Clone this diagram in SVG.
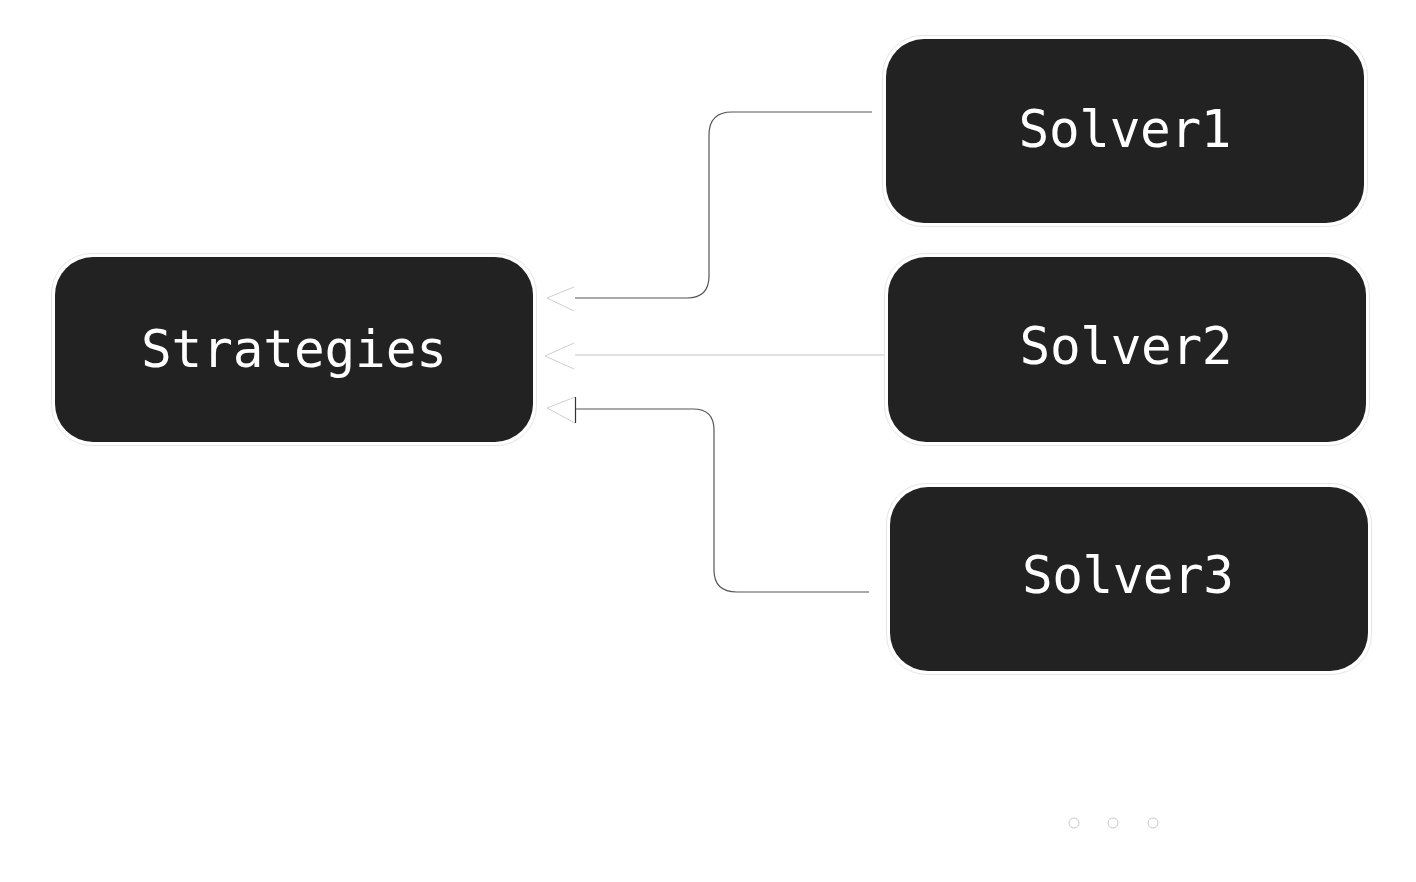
<svg xmlns="http://www.w3.org/2000/svg" width="1416" height="882" viewBox="0 0 1416 882">
<style>
.box{fill:#222;stroke:#fff;stroke-width:4;paint-order:stroke}
.edge{fill:none;stroke:#e6e6e6;stroke-width:1}
.lbl{font-family:"DejaVu Sans Mono","Liberation Mono",monospace;font-size:51px;fill:#fff;text-anchor:middle}
.wire{fill:none;stroke:#555;stroke-width:1.2}
.wire2{fill:none;stroke:#c4c4c4;stroke-width:1.2}
.head{fill:none;stroke:#cfcfcf;stroke-width:1}
.dot{fill:#fff;stroke:#c8c8c8;stroke-width:1}
</style>
<rect width="1416" height="882" fill="#fff"/>
<g id="connectors">
<path class="wire" d="M872 112 H732 Q709 112 709 135 V276 Q709 298 687 298 H575"/>
<path class="head" d="M574 287 L547 298 L574 311"/>
<path class="wire2" d="M884 355 H575"/>
<path class="head" d="M574 343 L545 356 L574 369"/>
<path class="wire" d="M869 592 H737 Q714 592 714 570 V430 Q714 409 693 409 H576"/>
<path class="head" d="M575 397 L547 408 L575 423"/>
<path d="M575.5 397 V423" stroke="#333" stroke-width="1.2"/>
</g>
<g id="strategies">
<rect class="edge" x="51.5" y="253.5" width="485" height="192" rx="40"/>
<rect class="box" x="55" y="257" width="478" height="185" rx="38"/>
<text class="lbl" x="294" y="367" textLength="306" lengthAdjust="spacing">Strategies</text>
</g>
<g id="solver1">
<rect class="edge" x="882.5" y="35.5" width="485" height="191" rx="40"/>
<rect class="box" x="886" y="39" width="478" height="184" rx="38"/>
<text class="lbl" x="1125" y="147" textLength="213" lengthAdjust="spacing">Solver1</text>
</g>
<g id="solver2">
<rect class="edge" x="884.5" y="253.5" width="485" height="192" rx="40"/>
<rect class="box" x="888" y="257" width="478" height="185" rx="38"/>
<text class="lbl" x="1126" y="364" textLength="213" lengthAdjust="spacing">Solver2</text>
</g>
<g id="solver3">
<rect class="edge" x="886.5" y="483.5" width="485" height="191" rx="40"/>
<rect class="box" x="890" y="487" width="478" height="184" rx="38"/>
<text class="lbl" x="1128" y="593" textLength="212" lengthAdjust="spacing">Solver3</text>
</g>
<g id="ellipsis">
<circle class="dot" cx="1074" cy="823" r="5"/>
<circle class="dot" cx="1113" cy="823" r="5"/>
<circle class="dot" cx="1153" cy="823" r="5"/>
</g>
</svg>
